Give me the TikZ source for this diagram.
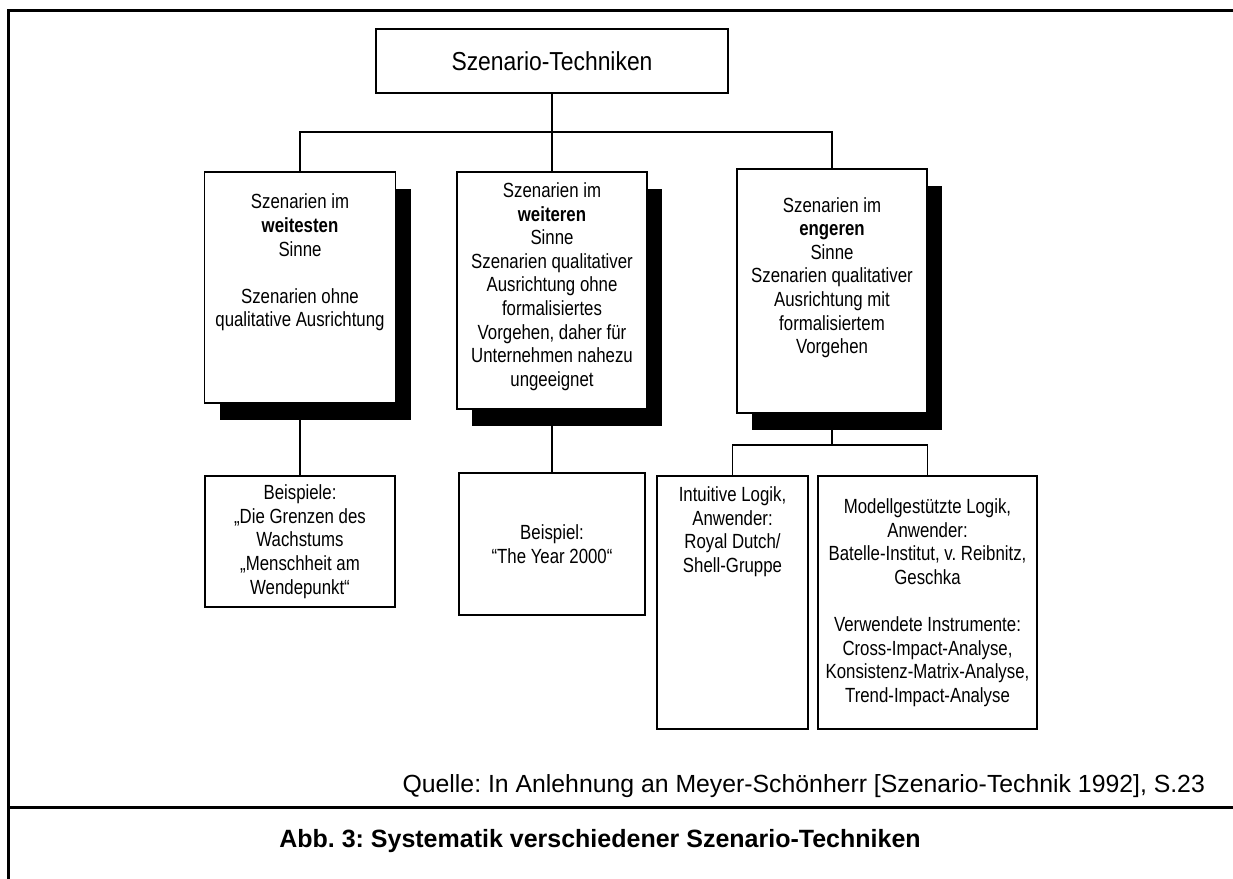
\documentclass[tikz,border=0pt]{standalone}
\usepackage{fontspec}
\setmainfont{Liberation Sans}
\newfontfamily\narrowfont[FakeStretch=0.82]{Liberation Sans}
\newfontfamily\titlefont[FakeStretch=0.88]{Liberation Sans}
\usetikzlibrary{shadows}
\frenchspacing

\begin{document}
\begin{tikzpicture}[x=0.5pt, y=-0.5pt,
  box/.style={draw, line width=0.6pt, fill=white, inner sep=0pt},
  shbox/.style={box, general shadow={fill=black, shadow xshift=7.5pt, shadow yshift=-8.5pt}},
  txt/.style={align=center, inner sep=0pt, font=\narrowfont\fontsize{10.25}{11.8}\selectfont},
  link/.style={line width=0.6pt}]
\useasboundingbox (0,0) rectangle (1233,879);
\draw[line width=1.5pt] (1233,10) -- (8,10) -- (8,879);
\draw[line width=1.5pt] (8,807) -- (1233,807);
\node[box, minimum width=176pt, minimum height=32pt, font=\titlefont\fontsize{13}{15}\selectfont] (T) at (552,61) {Szenario-Techniken};
\node[shbox, minimum width=95.5pt, minimum height=115.5pt] (B1) at (300,287.5) {};
\node[txt] (B1T) at (300,262.5) {Szenarien im\\\textbf{weitesten}\\Sinne\\[11.8pt]Szenarien ohne\\qualitative Ausrichtung};
\node[shbox, minimum width=95pt, minimum height=118.5pt] (B2) at (552,290.5) {};
\node[txt] (B2T) at (552,286.5) {Szenarien im\\\textbf{weiteren}\\Sinne\\Szenarien qualitativer\\Ausrichtung ohne\\formalisiertes\\Vorgehen, daher für\\Unternehmen nahezu\\ungeeignet};
\node[shbox, minimum width=95pt, minimum height=122pt] (B3) at (832,291) {};
\node[txt] (B3T) at (832,277.5) {Szenarien im\\\textbf{engeren}\\Sinne\\Szenarien qualitativer\\Ausrichtung mit\\formalisiertem\\Vorgehen};
\node[box, txt, minimum width=95pt, minimum height=65.5pt] (E1) at (300,541.5) {Beispiele:\\„Die Grenzen des\\Wachstums\\„Menschheit am\\Wendepunkt“};
\node[box, txt, minimum width=93pt, minimum height=71pt] (E2) at (552,544) {Beispiel:\\“The Year 2000“};
\node[box, minimum width=75.5pt, minimum height=126.5pt] (I1) at (732.5,602.5) {};
\node[txt] (I1T) at (732.5,531.5) {Intuitive Logik,\\Anwender:\\Royal Dutch/\\Shell-Gruppe};
\node[box, txt, minimum width=109.5pt, minimum height=126.5pt] (M1) at (927.5,602.5) {Modellgestützte Logik,\\Anwender:\\Batelle-Institut, v. Reibnitz,\\Geschka\\[11.8pt]Verwendete Instrumente:\\Cross-Impact-Analyse,\\Konsistenz-Matrix-Analyse,\\Trend-Impact-Analyse};
\node[anchor=base east, font=\fontsize{12.4}{14}\selectfont] (Q) at (1212,792) {Quelle: In Anlehnung an Meyer-Schönherr [Szenario-Technik 1992], S.23};
\node[anchor=base, font=\bfseries\fontsize{12.5}{14}\selectfont] (C) at (600,847) {Abb. 3: Systematik verschiedener Szenario-Techniken};
\coordinate (hub) at (552,132);
\coordinate (split) at (832,445);
\draw[link] (T.south) -- (hub);
\draw[link] (B1.north) |- (hub) -| (B3.north);
\draw[link] (hub) -- (B2.north);
\draw[link] (B1.south) -- (E1.north);
\draw[link] (B2.south) -- (E2.north);
\draw[link] (B3.south) -- (split);
\draw[link] (I1.north) |- (split) -| (M1.north);
\end{tikzpicture}
\end{document}
